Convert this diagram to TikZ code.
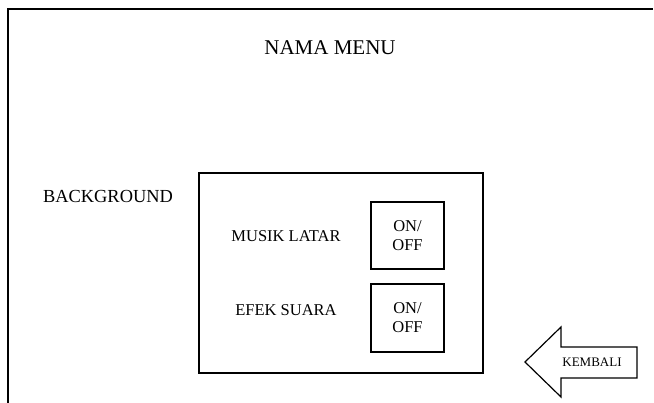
\documentclass[tikz,border=0pt]{standalone}
\usepackage{fontspec}
\setmainfont{Liberation Serif}
\usetikzlibrary{positioning}

\tikzset{
  frame/.style={line width=1.8pt},
  panel/.style={draw, line width=1.3pt, minimum width=284pt, minimum height=200pt, inner sep=0pt},
  toggle/.style={draw, line width=1.5pt, minimum width=73pt, minimum height=67pt, inner sep=0pt,
    align=center, font=\fontsize{16.5}{19}\selectfont},
  label/.style={font=\fontsize{16.5}{19}\selectfont, inner sep=0pt}
}

\begin{document}
\begin{tikzpicture}[x=1pt, y=-1pt]
  \useasboundingbox (0,0) rectangle (654,403);
  % screen edge
  \draw[frame] (8,403) -- (8,9) -- (653,9);
  \node[font=\fontsize{21}{24}\selectfont] (title) at (330,48) {NAMA MENU};
  \node[font=\fontsize{18.4}{21}\selectfont] (bg) at (108,197) {BACKGROUND};
  % settings panel
  \node[panel] (panel) at (341,273) {};
  \node[label] (musik) at (286,236) {MUSIK LATAR};
  \node[label] (efek) at (286,310) {EFEK SUARA};
  \node[toggle] (musikbtn) at (407.5,235.5) {ON/\\OFF};
  \node[toggle, minimum height=68pt] (efekbtn) at (407.5,318) {ON/\\OFF};
  % back button
  \draw[line width=1.2pt, line join=miter]
    (525,362) -- (561,327) -- (561,347) -- (637,347) -- (637,378)
    -- (561,378) -- (561,397) -- cycle;
  \node[font=\fontsize{13}{15}\selectfont] (back) at (592,362) {KEMBALI};
\end{tikzpicture}
\end{document}
